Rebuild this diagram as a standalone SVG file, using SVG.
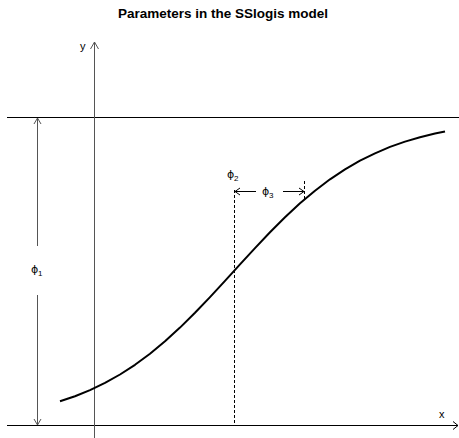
<svg xmlns="http://www.w3.org/2000/svg" width="459" height="438" viewBox="0 0 459 438">
<style>
.ax{stroke:#000;stroke-width:1;fill:none}
.gr{stroke:#555;stroke-width:1;fill:none}
.dash{stroke:#000;stroke-width:1;stroke-dasharray:3,2;fill:none}
.lbl{font-family:"Liberation Sans",Arial,sans-serif;font-size:11px;fill:#000}
.phi{font-family:"DejaVu Sans","Liberation Sans",sans-serif;font-size:11px;fill:#000}
.sub{font-family:"Liberation Sans",Arial,sans-serif;font-size:8px;fill:#000}
.title{font-family:"Liberation Sans",Arial,sans-serif;font-size:13.5px;font-weight:bold;fill:#000}
</style>
<rect width="459" height="438" fill="#fff"/>
<g id="title"><text class="title" x="223" y="18" text-anchor="middle">Parameters in the SSlogis model</text></g>
<g id="axes">
<line class="ax" x1="7" y1="117.5" x2="459" y2="117.5"/>
<line class="ax" x1="7" y1="425.5" x2="458" y2="425.5"/>
<path class="ax" d="M453 421.5 L458 425.5 L453 429.5"/>
<line class="gr" x1="94.5" y1="42" x2="94.5" y2="438"/>
<path class="gr" d="M90.5 49 L94.5 42 L98.5 49"/>
<text class="lbl" x="80" y="50">y</text>
<text class="lbl" x="439" y="418">x</text>
</g>
<g id="phi1">
<line class="gr" x1="37.5" y1="118" x2="37.5" y2="246"/>
<line class="gr" x1="37.5" y1="295" x2="37.5" y2="425"/>
<path class="gr" d="M34 124 L37.5 118 L41 124"/>
<path class="gr" d="M34 419 L37.5 425 L41 419"/>
<text class="phi" x="31" y="273">ϕ</text><text class="sub" x="38" y="276">1</text>
</g>
<g id="phi2">
<line class="dash" x1="234.5" y1="190" x2="234.5" y2="425"/>
<text class="phi" x="227" y="178">ϕ</text><text class="sub" x="234" y="181">2</text>
</g>
<g id="phi3">
<line class="ax" x1="235" y1="191.5" x2="256" y2="191.5"/>
<path class="ax" d="M240 188 L235 191.5 L240 195"/>
<line class="ax" x1="283" y1="191.5" x2="304" y2="191.5"/>
<path class="ax" d="M299 188 L304 191.5 L299 195"/>
<line class="dash" x1="304.5" y1="181" x2="304.5" y2="199"/>
<text class="phi" x="262" y="195">ϕ</text><text class="sub" x="269" y="198">3</text>
</g>
<g id="curve">
<polyline fill="none" stroke="#000" stroke-width="2" stroke-linejoin="round" points="60,401.3 75,396.2 90,390.1 105,382.9 120,374.5 135,364.8 150,353.7 165,341.3 180,327.6 195,312.8 210,297.1 225,280.9 240,264.4 255,248.1 270,232.2 285,217.3 300,203.3 315,190.7 330,179.3 345,169.4 360,160.7 375,153.3 390,146.9 405,141.6 420,137.2 435,133.5 445,131.4"/>
</g>
</svg>
